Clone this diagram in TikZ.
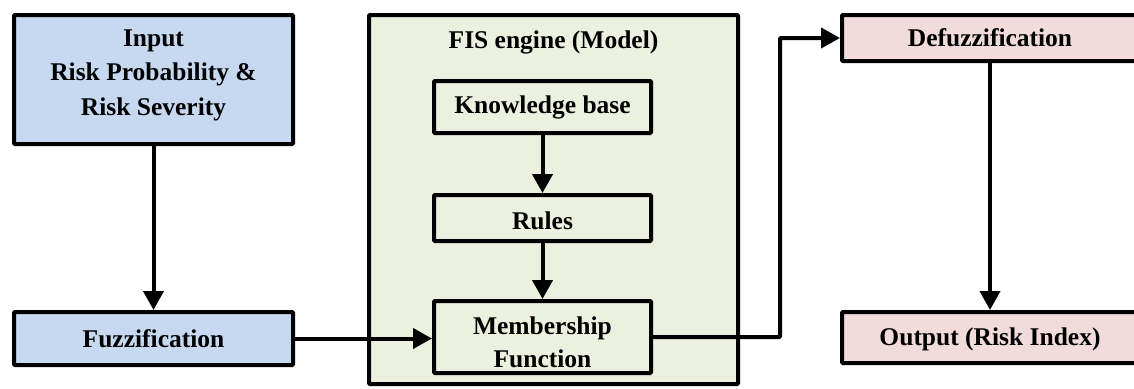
\documentclass[tikz,border=0pt]{standalone}
\usepackage{fontspec}
\setmainfont{Liberation Serif}
\usetikzlibrary{arrows.meta}
\definecolor{inblue}{HTML}{C6D9F1}
\definecolor{fisgreen}{HTML}{EBF1DE}
\definecolor{outpink}{HTML}{F2DCDB}
\tikzset{
  box/.style={draw=black, line width=4pt, rectangle, inner sep=0pt, rounded corners=1pt,
    font=\fontsize{25.5}{33}\selectfont\bfseries, align=center},
  txt/.style={inner sep=0pt, font=\fontsize{25.5}{33}\selectfont\bfseries, align=center},
  conn/.style={line width=4pt, -{Triangle[width=20pt,length=19pt]}},
  plain/.style={line width=4pt}
}
\begin{document}
\begin{tikzpicture}[x=1pt,y=-1pt]
\useasboundingbox (0,0) rectangle (1134,388);
\clip (0,0) rectangle (1134,388);
% big FIS container
\node[box, fill=fisgreen, minimum width=369pt, minimum height=369pt] (fis) at (553.5,199.5) {};
\node[txt] (fistitle) at (553.5,42.5) {FIS engine (Model)};
% left column
\node[box, fill=inblue, minimum width=279pt, minimum height=129pt] (input) at (153.5,79.5) {};
\node[txt, font=\fontsize{25.5}{34.5}\selectfont\bfseries] (inputtxt) at (153.5,75) {Input\\Risk Probability \&\\Risk Severity};
\node[box, fill=inblue, minimum width=279pt, minimum height=53pt] (fuzz) at (153.5,338.5) {Fuzzification};
% inner FIS boxes
\node[box, fill=fisgreen, minimum width=217pt, minimum height=52pt] (kb) at (542.5,107) {Knowledge base};
\node[box, fill=fisgreen, minimum width=217pt, minimum height=46pt] (rules) at (542.5,218) {};
\node[txt] (rulestxt) at (542.5,221) {Rules};
\node[box, fill=fisgreen, minimum width=217pt, minimum height=72pt] (memb) at (542.5,337) {};
\node[txt] (membtxt) at (542.5,342) {Membership\\Function};
% right column
\node[box, fill=outpink, minimum width=296pt, minimum height=46pt] (defuzz) at (990,38) {Defuzzification};
\node[box, fill=outpink, minimum width=296pt, minimum height=51pt] (output) at (990,337.5) {};
\node[txt] (outputtxt) at (990,339) {Output (Risk Index)};
\coordinate (bendx) at (780,0);
% connectors
\draw[conn] (input.south) -- (fuzz.north);
\draw[conn] (fuzz.east) -- (fuzz.east -| memb.west);
\draw[conn] (kb.south) -- (rules.north);
\draw[conn] (rules.south) -- (memb.north);
\draw[conn, rounded corners=1pt] (memb.east) -- (memb.east -| bendx) |- (defuzz.west);
\draw[conn] (defuzz.south) -- (output.north);
\end{tikzpicture}
\end{document}
